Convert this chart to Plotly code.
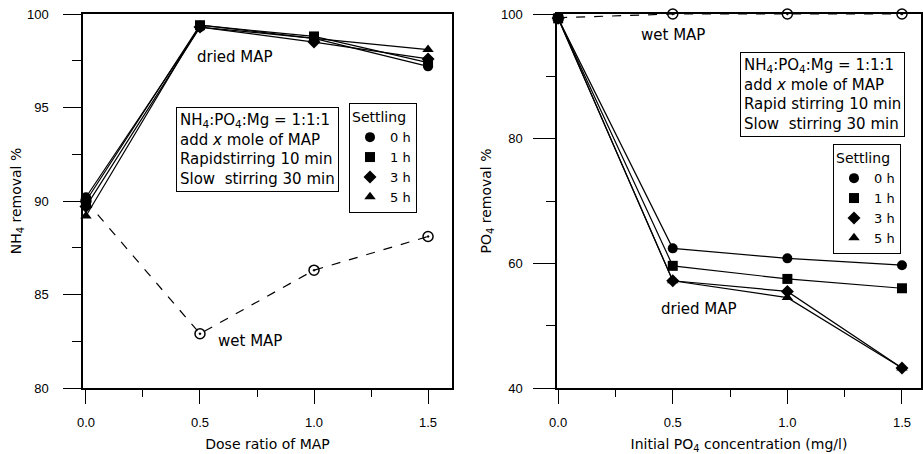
import plotly.graph_objects as go

# ---------------- data ----------------
dose = [0.0, 0.5, 1.0, 1.5]
settling = ["0 h", "1 h", "3 h", "5 h"]
symbols = ["circle", "square", "diamond", "triangle-up"]

# Left panel: NH4 removal %
nh4_dried = {
    "0 h": [90.2, 99.3, 98.7, 97.2],
    "1 h": [90.0, 99.4, 98.8, 97.4],
    "3 h": [89.7, 99.3, 98.5, 97.6],
    "5 h": [89.2, 99.4, 98.7, 98.1],
}
nh4_wet = [90.0, 82.9, 86.3, 88.1]

# Right panel: PO4 removal %
po4_dried = {
    "0 h": [99.3, 62.4, 60.8, 59.7],
    "1 h": [99.3, 59.6, 57.5, 56.0],
    "3 h": [99.3, 57.2, 55.5, 43.2],
    "5 h": [99.3, 57.2, 54.5, 43.2],
}
po4_wet = [99.4, 100.0, 100.0, 100.0]

W, H = 923, 454
FONT = "Liberation Sans, Arial, sans-serif"
FONT2 = "DejaVu Sans, sans-serif"

fig = go.Figure()

# wet MAP series (dashed, open circle with dot)
for xa, ya, ys in [("x", "y", nh4_wet), ("x2", "y2", po4_wet)]:
    fig.add_trace(go.Scatter(
        x=dose, y=ys, xaxis=xa, yaxis=ya, mode="lines+markers",
        line=dict(color="black", width=1.2, dash="dash"),
        marker=dict(symbol="circle-open-dot", size=10, color="black",
                    line=dict(width=1.5, color="black")),
        showlegend=False, cliponaxis=False))

# dried MAP series
for xa, ya, data, lg in [("x", "y", nh4_dried, "legend"), ("x2", "y2", po4_dried, "legend2")]:
    for s, sym in zip(settling, symbols):
        fig.add_trace(go.Scatter(
            x=dose, y=data[s], xaxis=xa, yaxis=ya, mode="lines+markers",
            line=dict(color="black", width=1.2),
            marker=dict(symbol=sym, size=10, color="black"),
            showlegend=False, cliponaxis=False))
    # legend-only marker entries
    for s, sym in zip(settling, symbols):
        fig.add_trace(go.Scatter(
            x=[None], y=[None], xaxis=xa, yaxis=ya, mode="markers", name=s,
            marker=dict(symbol=sym, size=10, color="black"),
            legend=lg, showlegend=True))

axis_common = dict(
    showline=True, linecolor="black", linewidth=1.5, mirror=True,
    ticks="outside", tickcolor="black", tickwidth=1.2,
    showgrid=False, zeroline=False, automargin=False,
    tickfont=dict(family=FONT, size=13, color="black"),
    title_font=dict(family=FONT2, size=14, color="black"),
)

legend_common = dict(
    xanchor="left", yanchor="top", bordercolor="black", borderwidth=1, bgcolor="white",
    title=dict(text="Settling", side="top", font=dict(family=FONT2, size=14, color="black")),
    itemwidth=30, font=dict(family=FONT2, size=13, color="black"), tracegroupgap=0,
)

fig.update_layout(
    width=W, height=H,
    margin=dict(l=0, r=0, t=14, b=66),
    paper_bgcolor="white", plot_bgcolor="white",
    font=dict(family=FONT, size=13, color="black"),
    xaxis=dict(domain=[83 / W, 452 / W], range=[-0.013, 1.605],
               tickvals=[0.0, 0.5, 1.0, 1.5], ticktext=["0.0", "0.5", "1.0", "1.5"],
               ticklen=14, ticklabelstandoff=8,
               minor=dict(tickvals=[0.25, 0.75, 1.25], ticks="outside", ticklen=7, tickcolor="black"),
               title=dict(text="Dose ratio of MAP", standoff=10), anchor="y", **axis_common),
    yaxis=dict(domain=[0, 1], range=[80, 100], tickvals=[80, 85, 90, 95, 100],
               ticklen=18, ticklabelstandoff=12,
               minor=dict(tickvals=[82.5, 87.5, 92.5, 97.5], ticks="outside", ticklen=9, tickcolor="black"),
               title=dict(text="NH<sub>4</sub> removal %", standoff=2), anchor="x", **axis_common),
    xaxis2=dict(domain=[557 / W, 921 / W], range=[-0.005, 1.583],
                tickvals=[0.0, 0.5, 1.0, 1.5], ticktext=["0.0", "0.5", "1.0", "1.5"],
                ticklen=14, ticklabelstandoff=8,
                minor=dict(tickvals=[0.25, 0.75, 1.25], ticks="outside", ticklen=7, tickcolor="black"),
                title=dict(text="Initial PO<sub>4</sub> concentration (mg/l)", standoff=10), anchor="y2", **axis_common),
    yaxis2=dict(domain=[0, 1], range=[40, 100], tickvals=[40, 60, 80, 100],
                ticklen=22, ticklabelstandoff=8,
                minor=dict(tickvals=[50, 70, 90], ticks="outside", ticklen=9, tickcolor="black"),
                title=dict(text="PO<sub>4</sub> removal %", standoff=6), anchor="x2", **axis_common),
    legend=dict(x=349 / W, y=(388 - 103) / 374, **legend_common),
    legend2=dict(x=833 / W, y=(388 - 144) / 374, **legend_common),
)

box_text = ("NH<sub>4</sub>:PO<sub>4</sub>:Mg = 1:1:1<br>add <i>x</i> mole of MAP<br>"
            "Rapidstirring 10 min<br>Slow  stirring 30 min")
box_text2 = ("NH<sub>4</sub>:PO<sub>4</sub>:Mg = 1:1:1<br>add <i>x</i> mole of MAP<br>"
             "Rapid stirring 10 min<br>Slow  stirring 30 min")

box_font = dict(family=FONT2, size=15, color="black")
lbl_font = dict(family=FONT2, size=15, color="black")
annotations = [
    dict(xref="paper", yref="paper", x=176 / W, y=(388 - 107) / 374, xanchor="left", yanchor="top",
         text=box_text, showarrow=False, align="left", bordercolor="black", borderwidth=1,
         borderpad=3, bgcolor="white", font=box_font),
    dict(xref="paper", yref="paper", x=740 / W, y=(388 - 52) / 374, xanchor="left", yanchor="top",
         text=box_text2, showarrow=False, align="left", bordercolor="black", borderwidth=1,
         borderpad=3, bgcolor="white", font=box_font),
    dict(xref="x", yref="y", x=0.653, y=97.7, text="dried MAP", showarrow=False, font=lbl_font),
    dict(xref="x", yref="y", x=0.72, y=82.5, text="wet MAP", showarrow=False, font=lbl_font),
    dict(xref="x2", yref="y2", x=0.5, y=96.6, text="wet MAP", showarrow=False, font=lbl_font),
    dict(xref="x2", yref="y2", x=0.613, y=52.7, text="dried MAP", showarrow=False, font=lbl_font),
]
fig.update_layout(annotations=annotations)

fig.write_html("out.html", config={"displayModeBar": False})

# remove the default 8px page margin so the figure fills the window exactly
with open("out.html", encoding="utf-8") as f:
    html = f.read()
html = html.replace("<head>", "<head><style>html,body{margin:0;padding:0;overflow:hidden;}</style>", 1)
with open("out.html", "w", encoding="utf-8") as f:
    f.write(html)
